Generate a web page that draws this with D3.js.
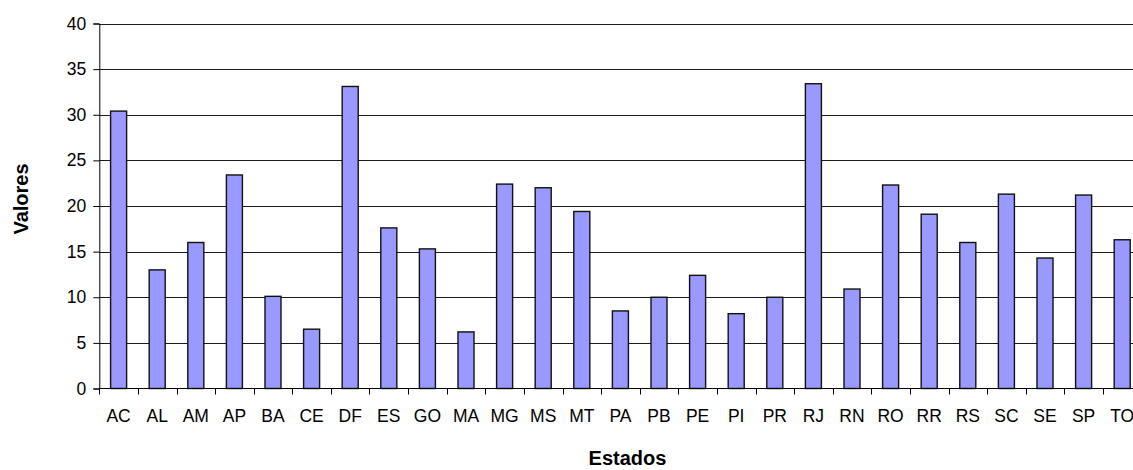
<!DOCTYPE html>
<html>
<head>
<meta charset="utf-8">
<script src="https://cdn.jsdelivr.net/npm/d3@7"></script>
<style>
  html, body { margin: 0; padding: 0; background: #fff; overflow: hidden; }
  svg { display: block; font-family: "Liberation Sans", Arial, sans-serif; }
</style>
</head>
<body>
<svg id="chart" width="1133" height="470"></svg>
<script>
// States (categories) and their values
const estados = ["AC","AL","AM","AP","BA","CE","DF","ES","GO","MA","MG","MS","MT","PA",
                 "PB","PE","PI","PR","RJ","RN","RO","RR","RS","SC","SE","SP","TO"];
const valores = [30.4, 13.0, 16.0, 23.4, 10.1, 6.5, 33.1, 17.6, 15.3, 6.2, 22.4, 22.0, 19.4, 8.5,
                 10.0, 12.4, 8.2, 10.0, 33.4, 10.9, 22.3, 19.1, 16.0, 21.3, 14.3, 21.2, 16.3];
const yTicks = [0, 5, 10, 15, 20, 25, 30, 35, 40];

const svg = d3.select("#chart");
const plotLeft = 99.3, plotTop = 23.5, plotBottom = 388.5;
const step = 38.6;
const plotRight = plotLeft + step * estados.length; // plot runs past the window edge

const x = d3.scaleBand()
  .domain(estados)
  .range([plotLeft, plotRight])
  .paddingInner(0.585)
  .paddingOuter(0.2925);

// category boundaries for the tick marks
const xEdge = d3.scaleLinear().domain([0, estados.length]).range([plotLeft, plotRight]);

const y = d3.scaleLinear().domain([0, 40]).range([plotBottom, plotTop]);

// horizontal gridlines
svg.append("g")
  .selectAll("line")
  .data(yTicks.filter(d => d > 0))
  .join("line")
  .attr("x1", plotLeft).attr("x2", plotRight)
  .attr("y1", d => Math.round(y(d)) + 0.5).attr("y2", d => Math.round(y(d)) + 0.5)
  .attr("stroke", "#1a1a1a").attr("stroke-width", 1);

// bars
svg.append("g")
  .selectAll("rect")
  .data(estados)
  .join("rect")
  .attr("x", d => x(d))
  .attr("width", x.bandwidth())
  .attr("y", (d, i) => y(valores[i]))
  .attr("height", (d, i) => y(0) - y(valores[i]))
  .attr("fill", "#9999FF")
  .attr("stroke", "#111")
  .attr("stroke-width", 1.4);

// y axis
const yAxis = svg.append("g")
  .attr("transform", `translate(${plotLeft},0)`)
  .call(d3.axisLeft(y).tickValues(yTicks).tickSize(6).tickPadding(7).tickFormat(d3.format("d")));
yAxis.select(".domain").attr("stroke", "#000");
yAxis.selectAll(".tick line").attr("stroke", "#000");
yAxis.selectAll("text").attr("font-size", 17.5).attr("fill", "#000")
  .attr("font-family", "Liberation Sans, Arial, sans-serif");

// x axis line
svg.append("line")
  .attr("x1", plotLeft).attr("x2", plotRight)
  .attr("y1", plotBottom).attr("y2", plotBottom)
  .attr("stroke", "#000");

// x tick marks between categories
svg.append("g")
  .selectAll("line")
  .data(d3.range(estados.length + 1))
  .join("line")
  .attr("x1", i => Math.round(xEdge(i)) + 0.5).attr("x2", i => Math.round(xEdge(i)) + 0.5)
  .attr("y1", plotBottom).attr("y2", plotBottom + 6)
  .attr("stroke", "#000");

// x category labels
svg.append("g")
  .selectAll("text")
  .data(estados)
  .join("text")
  .attr("x", d => x(d) + x.bandwidth() / 2)
  .attr("y", 422)
  .attr("text-anchor", "middle")
  .attr("font-size", 17.5)
  .attr("fill", "#000")
  .text(d => d);

// axis titles
svg.append("text")
  .attr("x", 627.5).attr("y", 465)
  .attr("text-anchor", "middle")
  .attr("font-size", 20).attr("font-weight", "bold")
  .text("Estados");

svg.append("text")
  .attr("transform", "translate(28,199) rotate(-90)")
  .attr("text-anchor", "middle")
  .attr("font-size", 20).attr("font-weight", "bold")
  .text("Valores");
</script>
</body>
</html>
